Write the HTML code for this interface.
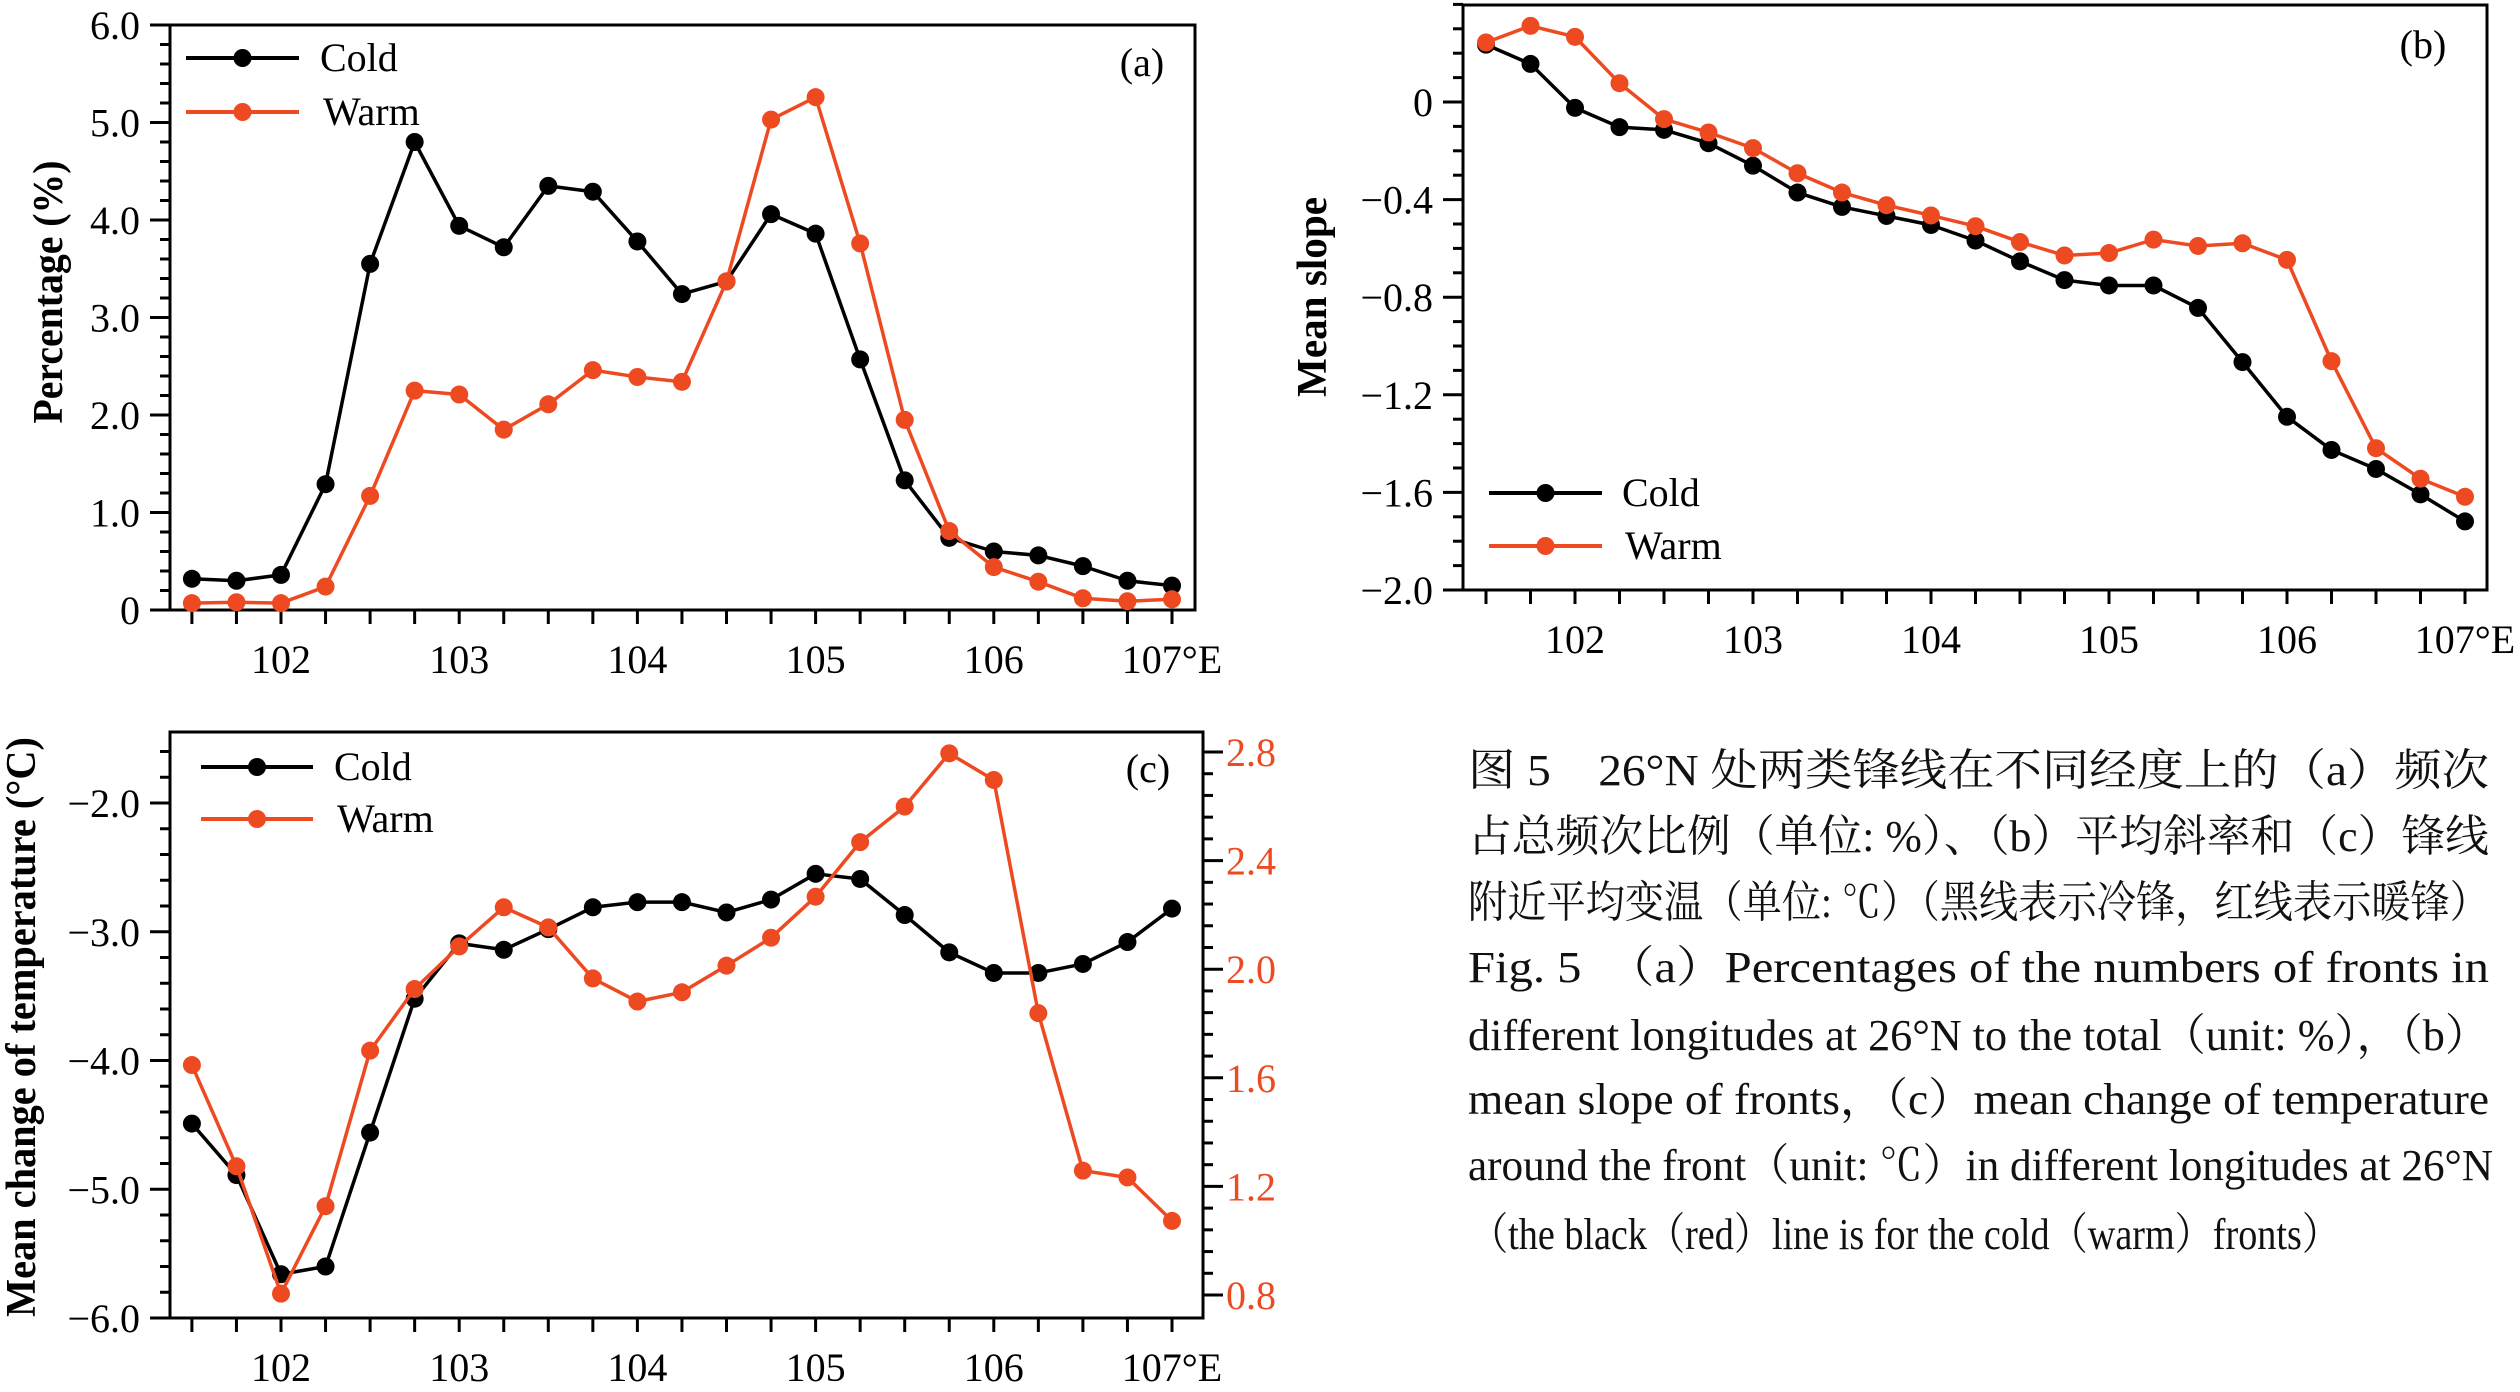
<!DOCTYPE html>
<html><head><meta charset="utf-8">
<style>
html,body{margin:0;padding:0;background:#fff;}
svg{display:block;font-family:"Liberation Serif","Noto Serif CJK SC",serif;}
</style></head>
<body>
<svg id="fig" width="2520" height="1392" viewBox="0 0 2520 1392" xmlns="http://www.w3.org/2000/svg">
<g font-size="44" fill="#111" font-family="'Liberation Serif','Noto Serif CJK SC',serif">
<text x="1468" y="785" textLength="1021" lengthAdjust="spacingAndGlyphs">图 5　26°N 处两类锋线在不同经度上的（a）频次</text>
<text x="1468" y="851" textLength="1021" lengthAdjust="spacingAndGlyphs">占总频次比例（单位: %）、（b）平均斜率和（c）锋线</text>
<text x="1468" y="917" textLength="1021" lengthAdjust="spacingAndGlyphs">附近平均变温（单位: ℃）（黑线表示冷锋，红线表示暖锋）</text>
<text x="1468" y="982" textLength="1021" lengthAdjust="spacingAndGlyphs">Fig. 5　（a）Percentages of the numbers of fronts in</text>
<text x="1468" y="1050" textLength="1021" lengthAdjust="spacingAndGlyphs">different longitudes at 26°N to the total（unit: %），（b）</text>
<text x="1468" y="1114" textLength="1021" lengthAdjust="spacingAndGlyphs">mean slope of fronts，（c）mean change of temperature</text>
<text x="1468" y="1180" textLength="1025" lengthAdjust="spacingAndGlyphs">around the front（unit: ℃）in different longitudes at 26°N</text>
<text x="1470" y="1249" textLength="870" lengthAdjust="spacingAndGlyphs">（the black（red）line is for the cold（warm）fronts）</text>
</g>
</svg>
<script>
const lons = [101.5,101.75,102,102.25,102.5,102.75,103,103.25,103.5,103.75,104,104.25,104.5,104.75,105,105.25,105.5,105.75,106,106.25,106.5,106.75,107];
const xTickLabels = ["102","103","104","105","106","107°E"];
const xTickValues = [102,103,104,105,106,107];
const pctCold = [0.32,0.30,0.36,1.29,3.55,4.80,3.94,3.72,4.35,4.29,3.78,3.24,3.37,4.06,3.86,2.57,1.33,0.74,0.60,0.56,0.45,0.30,0.25];
const pctWarm = [0.07,0.08,0.07,0.24,1.17,2.25,2.21,1.85,2.11,2.46,2.39,2.34,3.37,5.03,5.26,3.76,1.95,0.81,0.44,0.29,0.12,0.09,0.11];
const slopeCold = [0.235,0.156,-0.024,-0.103,-0.114,-0.169,-0.261,-0.371,-0.430,-0.467,-0.504,-0.568,-0.653,-0.730,-0.752,-0.752,-0.844,-1.066,-1.290,-1.426,-1.504,-1.608,-1.719];
const slopeWarm = [0.244,0.312,0.267,0.077,-0.070,-0.125,-0.189,-0.292,-0.371,-0.423,-0.465,-0.509,-0.574,-0.629,-0.619,-0.564,-0.590,-0.579,-0.647,-1.062,-1.419,-1.544,-1.618];
const tempCold = [-4.49,-4.89,-5.66,-5.60,-4.56,-3.52,-3.09,-3.14,-2.98,-2.81,-2.77,-2.77,-2.85,-2.75,-2.55,-2.59,-2.87,-3.16,-3.32,-3.32,-3.25,-3.08,-2.82];
const tempWarm = [1.647,1.274,0.805,1.127,1.700,1.927,2.084,2.228,2.154,1.966,1.881,1.915,2.013,2.116,2.267,2.468,2.599,2.795,2.697,1.838,1.258,1.233,1.073];
const pctTicks = ["0","1.0","2.0","3.0","4.0","5.0","6.0"];
const pctTickValues = [0,1,2,3,4,5,6];
const slopeTicks = ["0","−0.4","−0.8","−1.2","−1.6","−2.0"];
const slopeTickValues = [0,-0.4,-0.8,-1.2,-1.6,-2.0];
const tempTicks = ["−2.0","−3.0","−4.0","−5.0","−6.0"];
const tempTickValues = [-2,-3,-4,-5,-6];
const warmTicks = ["0.8","1.2","1.6","2.0","2.4","2.8"];
const warmTickValues = [0.8,1.2,1.6,2.0,2.4,2.8];

const NS = "http://www.w3.org/2000/svg";
const svg = document.getElementById('fig');
const RED = "#ee4a22";
function mk(tag, attrs, parent){
  const e = document.createElementNS(NS, tag);
  for (const k in attrs) e.setAttribute(k, attrs[k]);
  (parent||svg).appendChild(e);
  return e;
}
function linScale(d0,d1,r0,r1){ return v => r0 + (v-d0)*(r1-r0)/(d1-d0); }

function panel(cfg){
  const g = mk('g', {});
  
  
  const x = linScale(102,107,cfg.x102,cfg.x107);
  const y = linScale(cfg.yv0,cfg.yv1,cfg.yp0,cfg.yp1);
  // frame
  const fr = mk('rect', {x:cfg.L, y:cfg.T, width:cfg.R-cfg.L, height:cfg.B-cfg.T, fill:'none', stroke:'#000', 'stroke-width':3}, g);
  
  
  // x ticks
  for (let i=0;i<lons.length;i++){
    const t = mk('line', {x1:x(lons[i]), x2:x(lons[i]), y1:cfg.B, y2:cfg.B+14, stroke:'#000','stroke-width':3}, g);
    
    
  }
  for (let i=0;i<xTickValues.length;i++){
    const t = mk('text', {x:x(xTickValues[i]), y:cfg.xLabY, 'font-size':40, 'text-anchor':'middle', fill:'#000'}, g);
    t.textContent = xTickLabels[i];
    
    
  }
  // left y ticks
  const yLo = Math.min(cfg.yv0, cfg.yv1);
  for (let v = cfg.minorStart; v <= cfg.minorEnd + 1e-9; v += cfg.minorStep){
    const py = y(v);
    if (py < cfg.T-1 || py > cfg.B+1) continue;
    const isMajor = cfg.tickValues.some(t => Math.abs(t-v)<1e-6);
    const t = mk('line', {x1:cfg.L, x2:cfg.L-(isMajor?20:10), y1:py, y2:py, stroke:'#000','stroke-width':3}, g);
    
    
  }
  for (let i=0;i<cfg.tickValues.length;i++){
    const t = mk('text', {x:cfg.L-30, y:y(cfg.tickValues[i])+14, 'font-size':40, 'text-anchor':'end', fill:'#000'}, g);
    t.textContent = cfg.tickLabels[i];
    
    
  }
  // y title
  const yt = mk('text', {x:0, y:0, 'font-size':42, 'font-weight':'bold', 'text-anchor':'middle', fill:'#000',
    transform:`translate(${cfg.titleX},${cfg.titleY}) rotate(-90)`, textLength:cfg.titleLen, lengthAdjust:'spacingAndGlyphs'}, g);
  yt.textContent = cfg.title;
  
  
  // panel label
  const pl = mk('text', {x:cfg.labX, y:cfg.labY, 'font-size':40, 'text-anchor':'middle', fill:'#000'}, g);
  pl.textContent = cfg.label;
  
  
  return {g, x, y};
}

function series(g, xs, vals, x, y, color, name){
  const s = mk('g', {}, g);
  
  
  const pts = xs.map((v,i)=>x(v)+','+y(vals[i])).join(' ');
  const pl = mk('polyline', {points:pts, fill:'none', stroke:color, 'stroke-width':3.5, 'stroke-linejoin':'round'}, s);
  
  
  for (let i=0;i<xs.length;i++){
    const c = mk('circle', {cx:x(xs[i]), cy:y(vals[i]), r:9, fill:color}, s);
    
    
  }
}

function legend(g, x0, x1, yc, color, label, name, tx){
  const lg = mk('g', {}, g);
  
  
  mk('line', {x1:x0, x2:x1, y1:yc, y2:yc, stroke:color, 'stroke-width':4}, lg);
  mk('circle', {cx:(x0+x1)/2, cy:yc, r:9, fill:color}, lg);
  const t = mk('text', {x:tx, y:yc+13, 'font-size':40, fill:'#000'}, lg);
  t.textContent = label;
}

// Panel (a)
const A = panel({name:'panel-a-percentage', L:170, R:1195, T:25, B:610, x102:281, x107:1172,
  yv0:0, yv1:6, yp0:610, yp1:25, minorStart:0, minorEnd:6, minorStep:0.2,
  tickValues:pctTickValues, tickLabels:pctTicks, xLabY:673,
  title:'Percentage (%)', titleX:62, titleY:292, titleLen:263, label:'(a)', labX:1142, labY:76});
series(A.g, lons, pctCold, A.x, A.y, '#000', 'cold-series');
series(A.g, lons, pctWarm, A.x, A.y, RED, 'warm-series');
legend(A.g, 186, 299, 58, '#000', 'Cold', 'legend-cold', 320);
legend(A.g, 186, 299, 112, RED, 'Warm', 'legend-warm', 323);

// Panel (b)
const Bp = panel({name:'panel-b-slope', L:1463, R:2487, T:5, B:590, x102:1575, x107:2465,
  yv0:0, yv1:-2, yp0:102, yp1:590, minorStart:-2, minorEnd:0.4, minorStep:0.1,
  tickValues:slopeTickValues, tickLabels:slopeTicks, xLabY:653,
  title:'Mean slope', titleX:1326, titleY:297, titleLen:200, label:'(b)', labX:2423, labY:58});
series(Bp.g, lons, slopeCold, Bp.x, Bp.y, '#000', 'cold-series');
series(Bp.g, lons, slopeWarm, Bp.x, Bp.y, RED, 'warm-series');
legend(Bp.g, 1489, 1602, 493, '#000', 'Cold', 'legend-cold', 1622);
legend(Bp.g, 1489, 1602, 546, RED, 'Warm', 'legend-warm', 1625);

// Panel (c)
const C = panel({name:'panel-c-temperature', L:170, R:1203, T:732, B:1318, x102:281, x107:1172,
  yv0:-2, yv1:-6, yp0:803, yp1:1318, minorStart:-6, minorEnd:-1.4, minorStep:0.2,
  tickValues:tempTickValues, tickLabels:tempTicks, xLabY:1381,
  title:'Mean change of temperature (°C)', titleX:35, titleY:1027, titleLen:580, label:'(c)', labX:1148, labY:782});
series(C.g, lons, tempCold, C.x, C.y, '#000', 'cold-series');
const yR = linScale(0.8, 2.8, 1295, 752);
// right axis
for (let v = 0.8; v <= 2.8+1e-9+0.12; v += 0.08){
  const py = yR(v);
  if (py < 732) continue;
  const isMajor = warmTickValues.some(t => Math.abs(t-v)<1e-6);
  const t = mk('line', {x1:1203, x2:1203+(isMajor?20:10), y1:py, y2:py, stroke:'#000','stroke-width':3}, C.g);
  
  
}
for (let i=0;i<warmTickValues.length;i++){
  const t = mk('text', {x:1226, y:yR(warmTickValues[i])+14, 'font-size':40, fill:RED}, C.g);
  t.textContent = warmTicks[i];
  
  
}
series(C.g, lons, tempWarm, C.x, yR, RED, 'warm-series');
legend(C.g, 201, 313, 767, '#000', 'Cold', 'legend-cold', 334);
legend(C.g, 201, 313, 819, RED, 'Warm', 'legend-warm', 337);
</script>
</body></html>
